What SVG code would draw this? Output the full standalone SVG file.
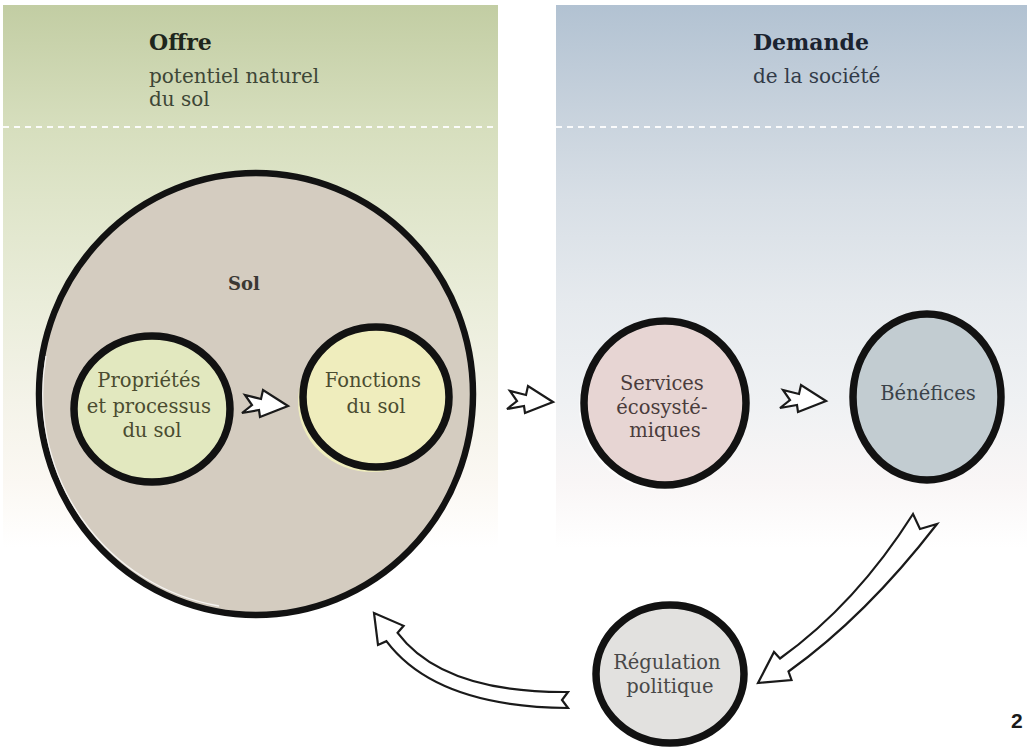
<svg xmlns="http://www.w3.org/2000/svg" width="1027" height="750" viewBox="0 0 1027 750">
  <defs>
    <linearGradient id="gradOffre" x1="0" y1="5" x2="0" y2="548" gradientUnits="userSpaceOnUse">
      <stop offset="0" stop-color="#c2cda3"/>
      <stop offset="0.22" stop-color="#d6debd"/>
      <stop offset="0.36" stop-color="#dfe5ca"/>
      <stop offset="0.55" stop-color="#eaedda"/>
      <stop offset="0.73" stop-color="#f4f3e9"/>
      <stop offset="0.88" stop-color="#fbf8f3"/>
      <stop offset="1" stop-color="#ffffff"/>
    </linearGradient>
    <linearGradient id="gradDemande" x1="0" y1="5" x2="0" y2="548" gradientUnits="userSpaceOnUse">
      <stop offset="0" stop-color="#b2c2d2"/>
      <stop offset="0.22" stop-color="#cad4de"/>
      <stop offset="0.36" stop-color="#d8dfe6"/>
      <stop offset="0.55" stop-color="#e6eaee"/>
      <stop offset="0.73" stop-color="#eff1f3"/>
      <stop offset="0.88" stop-color="#f9f6f6"/>
      <stop offset="1" stop-color="#ffffff"/>
    </linearGradient>
    <path id="bolt" d="M46,16 L21,0 L19,9 L3,5 L10,15 L0,23 L17,20 L18,27 Z"/>
  </defs>
  <style>
    .head { font-family: "DejaVu Serif", serif; font-weight: bold; font-size: 22px; }
    .sub { font-family: "DejaVu Serif", serif; font-size: 20px; }
    .lbl { font-family: "DejaVu Serif", serif; font-size: 19.5px; text-anchor: middle; }
    .ring { stroke: #121212; stroke-width: 7.5; }
    .dash { stroke: #ffffff; stroke-width: 2; stroke-dasharray: 6 5; fill: none; opacity: 0.9; }
    .arrow { fill: #ffffff; stroke: #1a1a1a; stroke-width: 2.2; stroke-linejoin: miter; }
  </style>

  <rect width="1027" height="750" fill="#ffffff"/>

  <!-- two background columns -->
  <g id="panels">
    <rect x="3" y="5" width="495" height="545" fill="url(#gradOffre)"/>
    <rect x="556" y="5" width="471" height="545" fill="url(#gradDemande)"/>
    <line class="dash" x1="3" y1="127" x2="498" y2="127"/>
    <line class="dash" x1="556" y1="127" x2="1027" y2="127"/>
    <text class="head" x="149" y="50" fill="#1e261c">Offre</text>
    <text class="sub" x="149" y="83" fill="#3d4636">potentiel naturel</text>
    <text class="sub" x="149" y="106" fill="#3d4636">du sol</text>
    <text class="head" x="753" y="50" fill="#1b2330">Demande</text>
    <text class="sub" x="753" y="83" fill="#323b48">de la société</text>
  </g>

  <!-- soil -->
  <g id="node-sol">
    <ellipse cx="256" cy="394" rx="217" ry="221" fill="#d4ccc0" stroke="#121212" stroke-width="6.5"/>
    <path d="M46,356 A211,215 0 0,0 219,606" fill="none" stroke="#ffffff" stroke-width="1.3" opacity="0.8"/>
    <text x="244" y="290" font-family="DejaVu Serif, serif" font-weight="bold" font-size="18px" text-anchor="middle" fill="#3a3834">Sol</text>
  </g>

  <g id="node-proprietes">
    <ellipse class="ring" cx="152" cy="409" rx="78" ry="73" fill="#e2e8bf"/>
    <text class="lbl" fill="#4a4c30">
      <tspan x="152" y="387">Propriétés</tspan>
      <tspan x="152" y="413">et processus</tspan>
      <tspan x="152" y="437">du sol</tspan>
    </text>
  </g>

  <g id="node-fonctions">
    <ellipse cx="372" cy="402" rx="74" ry="70" fill="#efedbd"/>
    <ellipse class="ring" cx="376" cy="397" rx="73" ry="70" fill="#efedbd"/>
    <text class="lbl" fill="#4a4c30">
      <tspan x="376" y="387">Fonctions</tspan>
      <tspan x="376" y="413">du sol</tspan>
    </text>
  </g>

  <g id="node-services">
    <ellipse cx="662" cy="406" rx="83" ry="84" fill="#ffffff" opacity="0.7"/>
    <ellipse class="ring" cx="665" cy="403" rx="81" ry="82" fill="#e7d5d3"/>
    <text class="lbl" fill="#4a3c3c">
      <tspan x="665" y="390">Services</tspan>
      <tspan x="665" y="414">écosysté-</tspan>
      <tspan x="665" y="437">miques</tspan>
    </text>
  </g>

  <g id="node-benefices">
    <ellipse class="ring" cx="927" cy="397" rx="74" ry="83" fill="#c2ccd1"/>
    <text class="lbl" x="928" y="400" fill="#3a4249">Bénéfices</text>
  </g>

  <g id="node-regulation">
    <ellipse class="ring" cx="670" cy="674" rx="74" ry="69" fill="#e2e1df"/>
    <text class="lbl" fill="#484848">
      <tspan x="670" y="669">Régulation</tspan>
      <tspan x="670" y="693">politique</tspan>
    </text>
  </g>

  <!-- arrows -->
  <g id="connectors">
    <use href="#bolt" class="arrow" transform="translate(242,390)"/>
    <use href="#bolt" class="arrow" transform="translate(507,386)"/>
    <use href="#bolt" class="arrow" transform="translate(780,385)"/>
    <path class="arrow" d="M913,514 Q856,604 780,658.5 L774,652 L758,683 L791.5,680 L788.5,671.5 Q866,616 937,524 L920,529 Z"/>
    <path class="arrow" d="M568,692 Q442.8,693 397.6,632.8 L403.6,625.8 L374,613 L378,645 L386.4,641.2 Q435.8,707 568,708 L562,700 Z"/>
  </g>

  <text x="1011" y="728" font-family="Liberation Sans, sans-serif" font-weight="bold" font-size="21px" fill="#1a1a1a">2</text>
</svg>
